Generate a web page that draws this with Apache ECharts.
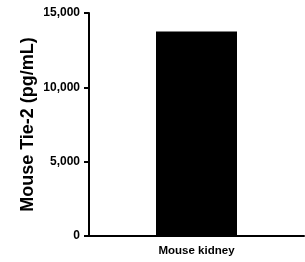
<!DOCTYPE html>
<html>
<head>
<meta charset="utf-8">
<script src="https://cdn.jsdelivr.net/npm/echarts@6/dist/echarts.min.js"></script>
<style>
html, body { margin: 0; padding: 0; background: #fff; }
#chart { width: 305px; height: 262px; }
</style>
</head>
<body>
<div id="chart"></div>
<script>
var categories = ['Mouse kidney'];
var values = [13750];
var yTicks = [0, 5000, 10000, 15000];

var myChart = echarts.init(document.getElementById('chart'));

var option = {
    animation: false,
    grid: { left: 89, right: 1, top: 13, bottom: 26 },
    xAxis: {
        type: 'category',
        data: categories,
        axisLine: { lineStyle: { color: '#000', width: 2 } },
        axisTick: { alignWithLabel: true, length: 5, lineStyle: { color: '#000', width: 2 } },
        axisLabel: { color: '#000', fontWeight: 'bold', fontSize: 11.5, fontFamily: 'Arial', margin: 9 }
    },
    yAxis: {
        type: 'value',
        min: yTicks[0],
        max: yTicks[yTicks.length - 1],
        interval: yTicks[1] - yTicks[0],
        name: 'Mouse Tie-2 (pg/mL)',
        nameLocation: 'middle',
        nameGap: 52,
        nameMoveOverlap: false,
        nameTextStyle: { color: '#000', fontWeight: 'bold', fontSize: 18, fontFamily: 'Arial' },
        splitLine: { show: false },
        axisLine: { show: true, lineStyle: { color: '#000', width: 2 } },
        axisTick: { show: true, length: 5, lineStyle: { color: '#000', width: 2 } },
        axisLabel: {
            color: '#000', fontWeight: 'bold', fontSize: 12, fontFamily: 'Arial', margin: 9,
            formatter: function (v) { return v.toLocaleString('en-US'); }
        }
    },
    series: [{
        type: 'bar',
        data: values,
        barWidth: 81,
        itemStyle: { color: '#000' }
    }]
};

myChart.setOption(option);
</script>
</body>
</html>
